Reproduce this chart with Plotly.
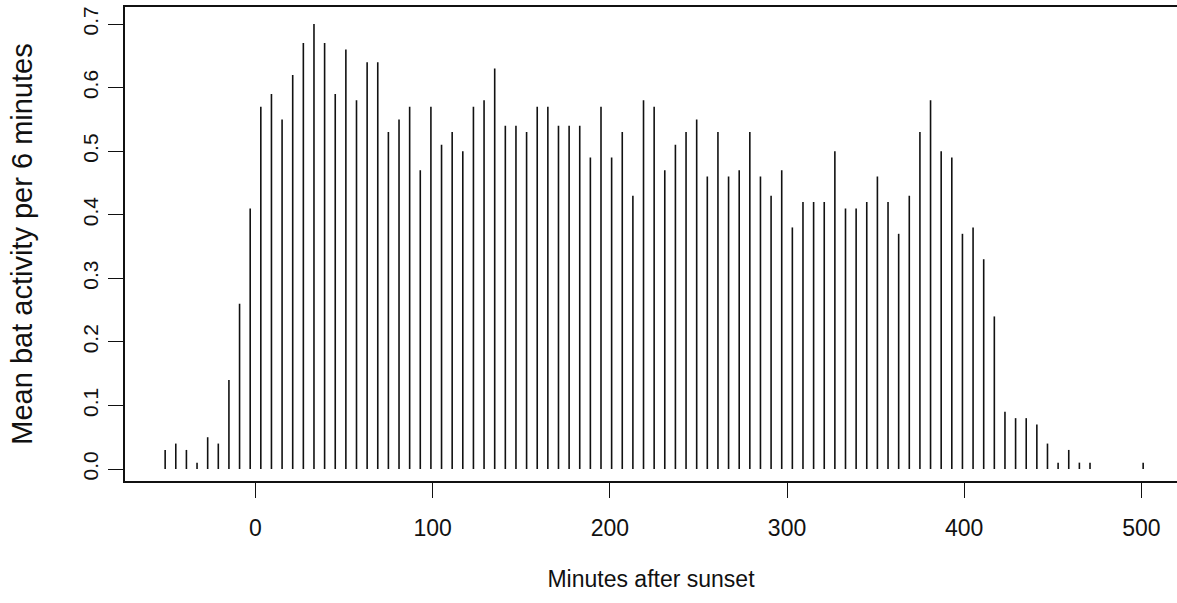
import plotly.graph_objects as go

# Minutes after sunset (bin positions, 6-minute bins)
minutes = [-51, -45, -39, -33, -27, -21, -15, -9, -3, 3, 9, 15, 21, 27, 33, 39, 45, 51, 57, 63,
           69, 75, 81, 87, 93, 99, 105, 111, 117, 123, 129, 135, 141, 147, 153, 159, 165, 171,
           177, 183, 189, 195, 201, 207, 213, 219, 225, 231, 237, 243, 249, 255, 261, 267, 273,
           279, 285, 291, 297, 303, 309, 315, 321, 327, 333, 339, 345, 351, 357, 363, 369, 375,
           381, 387, 393, 399, 405, 411, 417, 423, 429, 435, 441, 447, 453, 459, 465, 471, 501]

# Mean bat activity per 6 minutes
activity = [0.03, 0.04, 0.03, 0.01, 0.05, 0.04, 0.14, 0.26, 0.41, 0.57,
            0.59, 0.55, 0.62, 0.67, 0.70, 0.67, 0.59, 0.66, 0.58, 0.64, 0.64,
            0.53, 0.55, 0.57, 0.47, 0.57, 0.51, 0.53, 0.50, 0.57, 0.58, 0.63,
            0.54, 0.54, 0.53, 0.57, 0.57, 0.54, 0.54, 0.54, 0.49, 0.57, 0.49, 0.53,
            0.43, 0.58, 0.57, 0.47, 0.51, 0.53, 0.55, 0.46, 0.53, 0.46, 0.47, 0.53,
            0.46, 0.43, 0.47, 0.38, 0.42, 0.42, 0.42, 0.50, 0.41, 0.41, 0.42, 0.46,
            0.42, 0.37, 0.43, 0.53, 0.58, 0.50, 0.49, 0.37, 0.38, 0.33, 0.24,
            0.09, 0.08, 0.08, 0.07, 0.04, 0.01, 0.03, 0.01, 0.01,
            0.01]

x_ticks = [0, 100, 200, 300, 400, 500]
y_ticks = [0.0, 0.1, 0.2, 0.3, 0.4, 0.5, 0.6, 0.7]

# build "type = h" vertical lines
xs, ys = [], []
for m, a in zip(minutes, activity):
    xs += [m, m, None]
    ys += [0, a, None]

fig = go.Figure()
fig.add_trace(go.Scatter(x=xs, y=ys, mode="lines",
                         line=dict(color="#111111", width=1.6),
                         hoverinfo="skip", showlegend=False))

font_main = "Liberation Sans, Arial, sans-serif"

fig.update_layout(
    width=1177, height=603,
    margin=dict(l=125, r=0, t=7, b=122, autoexpand=False),
    paper_bgcolor="white", plot_bgcolor="white",
    showlegend=False,
    font=dict(family=font_main, color="#111111", size=20),
)

fig.update_xaxes(
    range=[-73.66, 520.1],
    tickmode="array", tickvals=x_ticks, ticktext=[str(v) for v in x_ticks],
    ticks="outside", ticklen=15, tickwidth=1.3, tickcolor="#111111",
    showline=True, linecolor="#111111", linewidth=1.5, mirror=True,
    showgrid=False, zeroline=False,
    tickfont=dict(family=font_main, size=23),
    ticklabelstandoff=11,
    title=dict(text="Minutes after sunset",
               font=dict(family=font_main, size=23),
               standoff=31),
)

fig.update_yaxes(
    range=[-0.01888, 0.7268],
    tickmode="array", tickvals=y_ticks, ticktext=[f"{v:.1f}" for v in y_ticks],
    tickangle=-90,
    ticks="outside", ticklen=15, tickwidth=1.3, tickcolor="#111111",
    showline=True, linecolor="#111111", linewidth=1.5, mirror=False,
    showgrid=False, zeroline=False,
    tickfont=dict(family=font_main, size=21),
    ticklabelstandoff=2,
    title=dict(text="Mean bat activity per 6 minutes",
               font=dict(family=font_main, size=29),
               standoff=38),
)

fig.write_html(
    "out.html",
    config={"displayModeBar": False},
    post_script="document.body.style.margin='0';document.body.style.overflow='hidden';"
                "document.documentElement.style.overflow='hidden';",
)
